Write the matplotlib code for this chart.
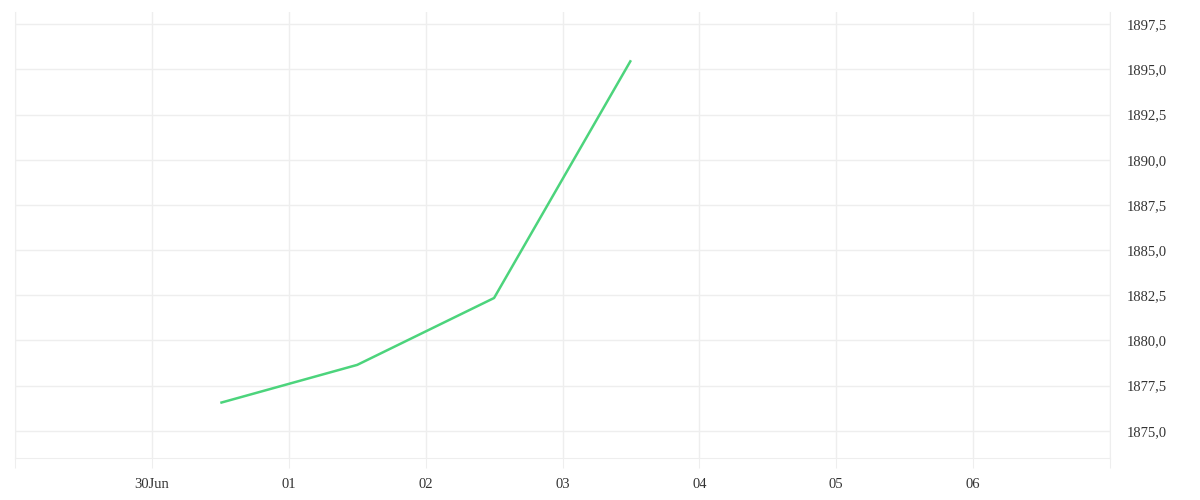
import pandas as pd
import matplotlib.pyplot as plt
import matplotlib.dates as mdates
from matplotlib.ticker import FuncFormatter, MultipleLocator

# data
dates = pd.to_datetime(["2024-06-30 12:00", "2024-07-01 12:00", "2024-07-02 12:00", "2024-07-03 12:00"])
values = [1876.55, 1878.65, 1882.35, 1895.5]

grid_col = "#eeeeee"
text_col = "#333333"


def day_label(v, pos):
    d = mdates.num2date(v)
    if d.day in (29, 7):
        return ""
    if d.month == 6:
        return d.strftime("%d%b")
    return d.strftime("%d")


fig = plt.figure(figsize=(12, 5), dpi=100)
ax = fig.add_axes([15 / 1200, 42 / 500, 1095 / 1200, 446 / 500])

ax.plot(dates, values, color="#4cd47c", linewidth=1.8, solid_capstyle="butt")

ax.set_xlim(pd.Timestamp("2024-06-29"), pd.Timestamp("2024-07-07"))
ax.set_ylim(1873.5, 1898.17)

ax.xaxis.set_major_locator(mdates.DayLocator())
ax.xaxis.set_major_formatter(FuncFormatter(day_label))

ax.yaxis.set_major_locator(MultipleLocator(2.5))
ax.yaxis.tick_right()
ax.yaxis.set_major_formatter(FuncFormatter(lambda v, p: f"{v:.1f}".replace(".", ",")))

ax.grid(True, color=grid_col, linewidth=1)
ax.set_axisbelow(True)

for s in ["left", "right", "bottom"]:
    ax.spines[s].set_color(grid_col)
ax.spines["top"].set_visible(False)

ax.tick_params(axis="x", length=7.2, color=grid_col, labelcolor=text_col, labelsize=10.5, pad=7)
ax.tick_params(axis="y", length=0, labelcolor=text_col, labelsize=10.5, pad=12)
for lab in ax.get_xticklabels() + ax.get_yticklabels():
    lab.set_fontfamily("Liberation Serif")

fig.savefig("out.png", dpi=100)
